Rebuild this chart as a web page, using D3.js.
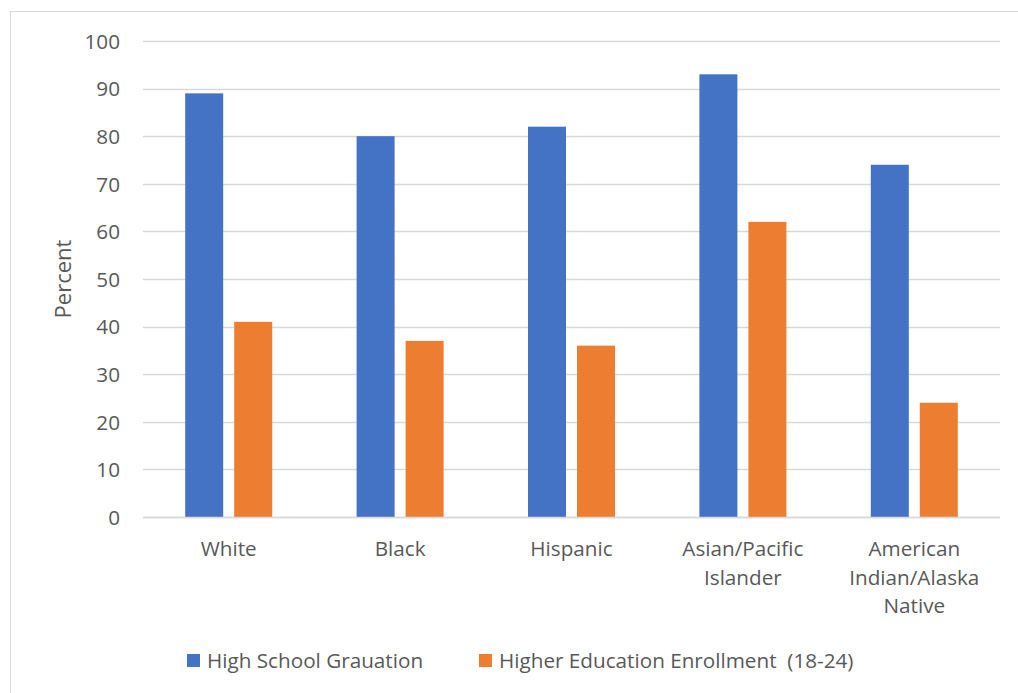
<!DOCTYPE html>
<html><head><meta charset="utf-8">
<script src="https://cdn.jsdelivr.net/npm/d3@7"></script>
<style>body{margin:0;background:#fff}svg{display:block}text{font-family:"Open Sans",sans-serif;fill:#595959}</style>
</head><body><svg id="c" width="1018" height="693"></svg>
<script>
const categories = [["White"],["Black"],["Hispanic"],["Asian/Pacific","Islander"],["American","Indian/Alaska","Native"]];
const seriesNames = ["High School Grauation","Higher Education Enrollment  (18-24)"];
const highSchool = [89,80,82,93,74];
const higherEd = [41,37,36,62,24];
const yTicks = [0,10,20,30,40,50,60,70,80,90,100];
const colors = ["#4472C4","#ED7D31"];

const FS = 20.7;
const svg = d3.select("#c");
// chart border
svg.append("rect").attr("x",10.5).attr("y",11.5).attr("width",1100).attr("height",800)
  .attr("fill","none").attr("stroke","#d9d9d9").attr("stroke-width",1);

const L=143,R=1000,T=41,B=517;
const x0 = d3.scaleBand().domain(d3.range(categories.length)).range([L,R]).padding(0);
const groupW = 87;
const x1 = d3.scaleBand().domain([0,1]).range([0,groupW]).paddingInner(11/49).paddingOuter(0);
const y = d3.scaleLinear().domain([0,100]).range([B,T]);

const grid = svg.append("g");
grid.selectAll("line").data(yTicks).join("line")
  .attr("x1",L).attr("x2",R).attr("y1",d=>Math.round(y(d))+0.5).attr("y2",d=>Math.round(y(d))+0.5)
  .attr("stroke","#d9d9d9").attr("stroke-width",1.5);

const yAxis = svg.append("g").attr("transform",`translate(${L},0)`)
  .call(d3.axisLeft(y).tickValues(yTicks).tickSize(0).tickPadding(23));
yAxis.select(".domain").remove();
yAxis.selectAll("text").attr("font-size",FS).attr("fill","#595959").style("font-family","'Open Sans',sans-serif").attr("dy","0.35em");

const data = categories.map((c,i)=>({i, vals:[highSchool[i],higherEd[i]]}));
const groups = svg.append("g").selectAll("g").data(data).join("g")
  .attr("transform",d=>`translate(${x0(d.i)+(x0.bandwidth()-groupW)/2},0)`);
groups.selectAll("rect").data(d=>d.vals.map((v,k)=>({v,k}))).join("rect")
  .attr("x",d=>x1(d.k)).attr("width",x1.bandwidth())
  .attr("y",d=>y(d.v)).attr("height",d=>B-y(d.v)).attr("fill",d=>colors[d.k]);

// x axis baseline
svg.append("line").attr("x1",L).attr("x2",R).attr("y1",B+0.5).attr("y2",B+0.5).attr("stroke","#d9d9d9").attr("stroke-width",1.5);

// category labels
const cl = svg.append("g").selectAll("text").data(categories).join("text")
  .attr("text-anchor","middle").attr("font-size",FS)
  .attr("x",(d,i)=>x0(i)+x0.bandwidth()/2).attr("y",556);
cl.selectAll("tspan").data(d=>d).join("tspan")
  .attr("x",function(){return this.parentNode.getAttribute("x");})
  .attr("dy",(d,j)=>j===0?0:28.5).text(d=>d);

// y title
svg.append("text").attr("transform","translate(71,279) rotate(-90)").attr("text-anchor","middle")
  .attr("font-size",22).text("Percent");

// legend
const legX=[187,479];
const lg = svg.append("g").selectAll("g").data(seriesNames).join("g")
  .attr("transform",(d,i)=>`translate(${legX[i]},654)`);
lg.append("rect").attr("width",13).attr("height",13).attr("fill",(d,i)=>colors[i]);
lg.append("text").attr("x",20).attr("y",13.5).attr("font-size",FS).text(d=>d).style("white-space","pre");
</script></body></html>
